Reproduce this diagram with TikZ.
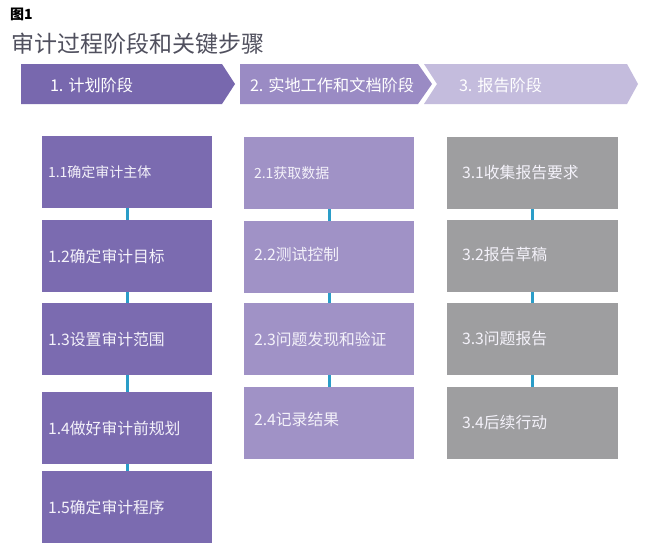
\documentclass[tikz,border=0pt]{standalone}
\usepackage{fontspec}
\setmainfont{Noto Sans CJK SC}

\definecolor{plan}{HTML}{7B6BB0}
\definecolor{field}{HTML}{A092C6}
\definecolor{report}{HTML}{9E9EA0}
\definecolor{phaseone}{HTML}{7868AE}
\definecolor{phasetwo}{HTML}{9A8BC4}
\definecolor{phasethree}{HTML}{C4BCDD}
\definecolor{linkblue}{HTML}{2A9DC8}
\definecolor{titlegray}{HTML}{50505E}
\definecolor{boxtext}{HTML}{F4F2FA}

\begin{document}
\begin{tikzpicture}[x=1pt,y=-1pt]
            \tikzstyle{every node} = [inner sep=0pt,outer sep=0pt];
            \tikzstyle{stepbox} = [rectangle,anchor=north west,minimum height=72pt,align=left,text=boxtext,font=\fontsize{15.8}{18}\selectfont];
            \tikzstyle{small} = [font=\fontsize{14}{16}\selectfont];
            \tikzstyle{planbox} = [stepbox,fill=plan,inner xsep=6pt,text width=158pt];
            \tikzstyle{fieldbox} = [stepbox,fill=field,inner xsep=10pt,text width=150pt];
            \tikzstyle{reportbox} = [stepbox,fill=report,inner xsep=15pt,text width=141pt];
            \tikzstyle{phase} = [anchor=west,text=white,font=\fontsize{16.2}{18}\selectfont];
            \tikzstyle{link} = [draw=linkblue,line width=3pt];
            \useasboundingbox[fill=white] (0,0) rectangle (651,555);
            % heading
            \node[anchor=west,font=\bfseries\fontsize{14}{16}\selectfont] (fig) at (10,14) {图1};
            \node[anchor=west,text=titlegray,font=\fontsize{23}{26}\selectfont] (title) at (12,44) {审计过程阶段和关键步骤};
            % phase banner
            \fill[phaseone] (21,64) -- (222,64) -- (235,84) -- (222,104) -- (21,104) -- cycle;
            \fill[phasetwo] (240,64) -- (418,64) -- (432,84) -- (418,104) -- (240,104) -- cycle;
            \fill[phasethree] (424,64) -- (627,64) -- (638,84) -- (627,104) -- (424,104) -- (437,84) -- cycle;
            \node[phase] (ph1) at (50,85) {1. 计划阶段};
            \node[phase] (ph2) at (250,85) {2. 实地工作和文档阶段};
            \node[phase] (ph3) at (459,85) {3. 报告阶段};
            % planning steps
            \node[planbox,small] (b11) at (42,136) {1.1确定审计主体};
            \node[planbox] (b12) at (42,220) {1.2确定审计目标};
            \node[planbox] (b13) at (42,303) {1.3设置审计范围};
            \node[planbox] (b14) at (42,392) {1.4做好审计前规划};
            \node[planbox] (b15) at (42,471) {1.5确定审计程序};
            % field work steps
            \node[fieldbox,small] (b21) at (244,137) {2.1获取数据};
            \node[fieldbox,text depth=6pt] (b22) at (244,221) {2.2测试控制};
            \node[fieldbox] (b23) at (244,303) {2.3问题发现和验证};
            \node[fieldbox,text depth=9pt] (b24) at (244,387) {2.4记录结果};
            % reporting steps
            \node[reportbox] (b31) at (447,137) {3.1收集报告要求};
            \node[reportbox,text depth=5pt] (b32) at (447,220) {3.2报告草稿};
            \node[reportbox] (b33) at (447,303) {3.3问题报告};
            \node[reportbox] (b34) at (447,387) {3.4后续行动};
            \draw[style=link] (b11) edge (b12);
            \draw[style=link] (b12) edge (b13);
            \draw[style=link] (b13) edge (b14);
            \draw[style=link] (b14) edge (b15);
            \draw[style=link] (b21) edge (b22);
            \draw[style=link] (b22) edge (b23);
            \draw[style=link] (b23) edge (b24);
            \draw[style=link] (b31) edge (b32);
            \draw[style=link] (b32) edge (b33);
            \draw[style=link] (b33) edge (b34);
        \end{tikzpicture}
\end{document}
